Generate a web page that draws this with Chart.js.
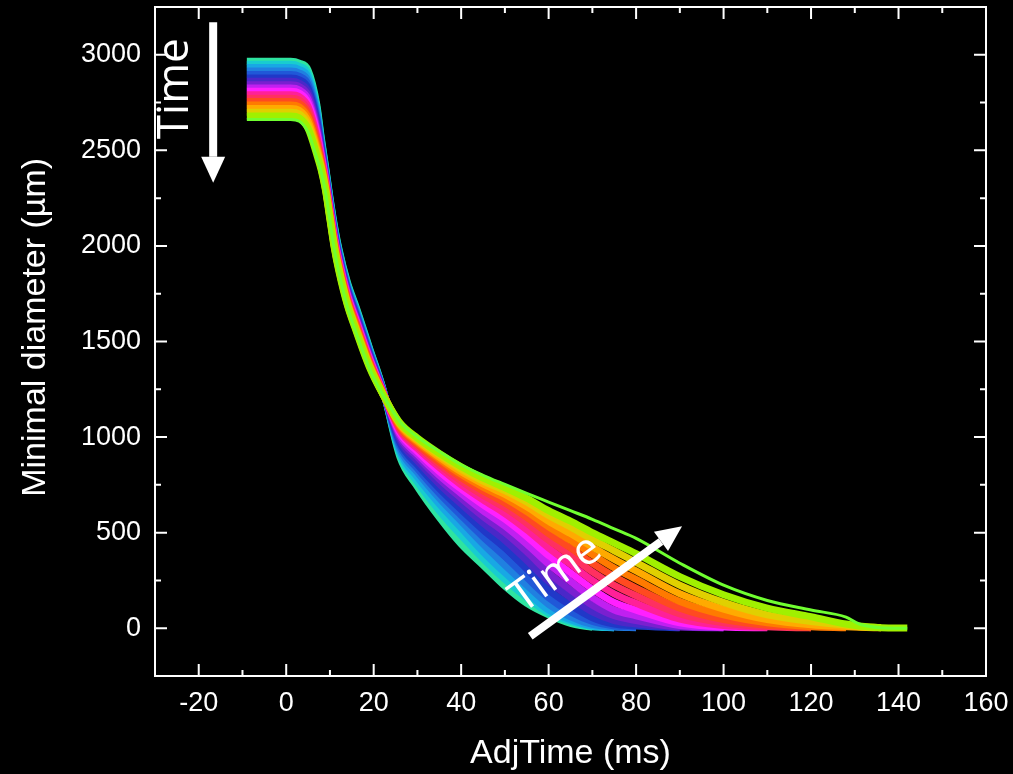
<!DOCTYPE html>
<html lang="en">
  <head>
    <meta charset="UTF-8" />
    <meta name="viewport" content="width=device-width, initial-scale=1.0" />
    <script src="https://cdn.jsdelivr.net/npm/chart.js@4"></script>
    <title>Minimal diameter vs AdjTime</title>
    <style>
      html, body { margin: 0; padding: 0; background: #000; }
      canvas { display: block; }
    </style>
  </head>
  <body>
    <canvas id="myChart" width="1013" height="774"></canvas>

    <script>
      // time axis shared by every curve (ms)
      const adjTime = [-9, 1, 3, 5, 7, 8, 9, 10, 11, 12, 14, 16, 19, 22,
        26, 30, 35, 40, 45, 50, 55, 60, 65, 70, 75, 80, 90, 100, 110, 120, 128, 131, 136, 142];

      // minimal diameter (um), one array per frame, earliest first. null = curve already ended
      const frame01 = [2966, 2966, 2956, 2920, 2740, 2570, 2415, 2255, 2110, 1990, 1810, 1680, 1470, 1262,
        895, 740, 580, 440, 330, 220, 130, 70, 25, 5, null, null, null, null, null, null, null, null, null, null];
      const frame02 = [2950, 2950, 2940, 2901, 2724, 2559, 2407, 2248, 2102, 1983, 1802, 1672, 1464, 1260,
        910, 765, 615, 485, 365, 255, 160, 80, 35, 8, 2, null, null, null, null, null, null, null, null, null];
      const frame03 = [2933, 2933, 2923, 2882, 2707, 2548, 2399, 2240, 2095, 1975, 1795, 1664, 1457, 1258,
        925, 790, 650, 525, 400, 290, 190, 95, 45, 12, 3, null, null, null, null, null, null, null, null, null];
      const frame04 = [2915, 2915, 2905, 2863, 2690, 2537, 2391, 2233, 2087, 1968, 1787, 1656, 1451, 1255,
        940, 815, 680, 560, 440, 330, 225, 125, 60, 20, 6, 3, null, null, null, null, null, null, null, null];
      const frame05 = [2897, 2897, 2887, 2844, 2674, 2526, 2383, 2226, 2079, 1961, 1779, 1648, 1444, 1253,
        955, 835, 705, 590, 478, 375, 265, 160, 85, 35, 12, 6, null, null, null, null, null, null, null, null];
      const frame06 = [2879, 2879, 2869, 2825, 2657, 2516, 2375, 2218, 2072, 1953, 1772, 1640, 1438, 1251,
        970, 855, 730, 620, 515, 420, 310, 200, 120, 55, 22, 12, 3, null, null, null, null, null, null, null];
      const frame07 = [2861, 2861, 2851, 2806, 2641, 2505, 2367, 2211, 2064, 1946, 1764, 1632, 1431, 1249,
        985, 875, 755, 650, 550, 460, 355, 245, 160, 85, 40, 22, 5, null, null, null, null, null, null, null];
      const frame08 = [2843, 2843, 2833, 2787, 2625, 2494, 2359, 2204, 2056, 1939, 1756, 1624, 1425, 1247,
        998, 895, 780, 680, 585, 500, 400, 290, 200, 120, 65, 40, 6, 2, null, null, null, null, null, null];
      const frame09 = [2826, 2826, 2816, 2768, 2608, 2483, 2351, 2196, 2049, 1931, 1749, 1616, 1418, 1244,
        1010, 910, 800, 705, 615, 535, 440, 335, 245, 160, 95, 65, 14, 3, null, null, null, null, null, null];
      const frame10 = [2809, 2809, 2799, 2748, 2592, 2472, 2343, 2189, 2041, 1924, 1741, 1609, 1412, 1242,
        1022, 925, 820, 728, 645, 570, 480, 380, 290, 205, 135, 95, 28, 6, 2, null, null, null, null, null];
      const frame11 = [2791, 2791, 2781, 2729, 2575, 2461, 2335, 2182, 2033, 1917, 1733, 1601, 1405, 1240,
        1033, 940, 840, 750, 672, 600, 515, 420, 335, 250, 180, 130, 48, 14, 4, null, null, null, null, null];
      const frame12 = [2773, 2773, 2763, 2710, 2559, 2450, 2327, 2174, 2026, 1909, 1726, 1593, 1399, 1238,
        1042, 952, 855, 770, 695, 630, 550, 460, 380, 295, 225, 170, 75, 28, 7, 2, null, null, null, null];
      const frame13 = [2755, 2755, 2745, 2691, 2542, 2440, 2320, 2167, 2018, 1902, 1718, 1585, 1392, 1236,
        1050, 962, 870, 788, 718, 655, 580, 495, 420, 340, 270, 210, 105, 45, 15, 3, null, null, null, null];
      const frame14 = [2737, 2737, 2727, 2672, 2526, 2429, 2312, 2160, 2010, 1895, 1710, 1577, 1386, 1233,
        1058, 972, 885, 805, 738, 680, 610, 530, 460, 385, 315, 255, 140, 70, 28, 8, 3, null, null, null];
      const frame15 = [2719, 2719, 2709, 2652, 2509, 2418, 2304, 2152, 2003, 1887, 1703, 1569, 1379, 1231,
        1065, 980, 895, 818, 755, 700, 635, 560, 495, 425, 360, 300, 180, 100, 45, 18, 8, 5, 2, null];
      const frame16 = [2700, 2700, 2690, 2633, 2493, 2407, 2296, 2145, 1995, 1880, 1695, 1561, 1373, 1229,
        1070, 988, 905, 832, 770, 720, 660, 590, 530, 465, 405, 345, 225, 135, 70, 35, 15, 8, 3, null];
      const frame17 = [2680, 2680, 2670, 2614, 2476, 2396, 2288, 2137, 1988, 1872, 1688, 1553, 1366, 1227,
        1075, 995, 915, 845, 785, 735, 680, 615, 560, 500, 445, 390, 270, 175, 105, 60, 22, 12, 3, 1];
      const frame18 = [2662, 2662, 2652, 2595, 2460, 2385, 2280, 2130, 1980, 1865, 1680, 1545, 1360, 1225,
        1080, 1000, 925, 855, 800, 752, 705, 660, 615, 570, 520, 470, 340, 225, 145, 95, 58, 22, 3, 0];

      const frames = [frame01, frame02, frame03, frame04, frame05, frame06, frame07, frame08, frame09,
        frame10, frame11, frame12, frame13, frame14, frame15, frame16, frame17, frame18];

      const frameColors = ["#2ee4a0", "#18ccd0", "#18a8e4", "#2080e0", "#2058d8", "#2038c8",
        "#4a28c8", "#7a20d0", "#c020f0", "#ff20ff", "#ff2098", "#ff3060",
        "#ff4a20", "#ff7a00", "#ffaa00", "#e0d000", "#a0f000", "#70ff30"];

      const xTickValues = [-20, 0, 20, 40, 60, 80, 100, 120, 140, 160];
      const yTickValues = [0, 500, 1000, 1500, 2000, 2500, 3000];
      const xMinorValues = [-10, 10, 30, 50, 70, 90, 110, 130, 150];
      const yMinorValues = [250, 750, 1250, 1750, 2250, 2750];

      // "Time" annotations, in data units
      const downArrow = { from: [-16.7, 3170], to: [-16.7, 2330] };
      const downLabel = { text: "Time", at: [-25.4, 2822] };
      const upArrow = { from: [55.8, -42], to: [90.5, 534] };
      const upLabel = { text: "Time", at: [61.7, 283] };

      const family = "'Liberation Sans', Arial, sans-serif";

      function arrow(ctx, x0, y0, x1, y1) {
        const ang = Math.atan2(y1 - y0, x1 - x0);
        const head = 26, half = 12;
        const bx = x1 - head * Math.cos(ang), by = y1 - head * Math.sin(ang);
        ctx.lineWidth = 8;
        ctx.beginPath();
        ctx.moveTo(x0, y0);
        ctx.lineTo(bx, by);
        ctx.stroke();
        ctx.beginPath();
        ctx.moveTo(x1, y1);
        ctx.lineTo(bx + half * Math.sin(ang), by - half * Math.cos(ang));
        ctx.lineTo(bx - half * Math.sin(ang), by + half * Math.cos(ang));
        ctx.closePath();
        ctx.fill();
      }

      const frameAndNotes = {
        id: "frameAndNotes",
        beforeDraw(chart) {
          const ctx = chart.ctx;
          ctx.save();
          ctx.fillStyle = "#000";
          ctx.fillRect(0, 0, chart.width, chart.height);
          ctx.restore();
        },
        afterDatasetsDraw(chart) {
          const { ctx, chartArea: a, scales: { x, y } } = chart;
          ctx.save();
          ctx.strokeStyle = "#fff";
          ctx.fillStyle = "#fff";
          ctx.lineWidth = 2;
          ctx.strokeRect(a.left, a.top, a.right - a.left, a.bottom - a.top);

          // inward ticks on all four sides
          const tick = (vals, len) => {
            vals.forEach(v => {
              const px = x.getPixelForValue(v);
              ctx.beginPath();
              ctx.moveTo(px, a.bottom); ctx.lineTo(px, a.bottom - len);
              ctx.moveTo(px, a.top); ctx.lineTo(px, a.top + len);
              ctx.stroke();
            });
          };
          const ytick = (vals, len) => {
            vals.forEach(v => {
              const py = y.getPixelForValue(v);
              ctx.beginPath();
              ctx.moveTo(a.left, py); ctx.lineTo(a.left + len, py);
              ctx.moveTo(a.right, py); ctx.lineTo(a.right - len, py);
              ctx.stroke();
            });
          };
          tick(xTickValues, 12);
          tick(xMinorValues, 6);
          ytick(yTickValues, 12);
          ytick(yMinorValues, 6);

          // arrows + labels
          const p = pt => [x.getPixelForValue(pt[0]), y.getPixelForValue(pt[1])];
          const [d0x, d0y] = p(downArrow.from), [d1x, d1y] = p(downArrow.to);
          arrow(ctx, d0x, d0y, d1x, d1y);
          const [u0x, u0y] = p(upArrow.from), [u1x, u1y] = p(upArrow.to);
          arrow(ctx, u0x, u0y, u1x, u1y);

          ctx.font = "44px 'Open Sans', sans-serif";
          ctx.textAlign = "center";
          ctx.textBaseline = "middle";
          let [tx, ty] = p(downLabel.at);
          ctx.save();
          ctx.translate(tx, ty);
          ctx.rotate(-Math.PI / 2);
          ctx.fillText(downLabel.text, 0, 0);
          ctx.restore();
          [tx, ty] = p(upLabel.at);
          ctx.save();
          ctx.translate(tx, ty);
          ctx.rotate(Math.atan2(u1y - u0y, u1x - u0x));
          ctx.fillText(upLabel.text, 0, 0);
          ctx.restore();
          ctx.restore();
        }
      };

      const datasets = frames.map((vals, i) => ({
        label: "frame " + (i + 1),
        data: adjTime.map((t, j) => ({ x: t, y: vals[j] })).filter(pt => pt.y !== null),
        borderColor: frameColors[i],
        borderWidth: i === frames.length - 1 ? 3 : 7,
        order: frames.length - i
      }));

      const ctx = document.getElementById("myChart").getContext("2d");
      const chart = new Chart(ctx, {
        type: "line",
        data: { datasets: datasets },
        options: {
          responsive: false,
          animation: false,
          devicePixelRatio: 1,
          layout: { padding: { top: 7, right: 27, left: 0, bottom: 0 } },
          elements: {
            point: { radius: 0 },
            line: { cubicInterpolationMode: "monotone", fill: false }
          },
          plugins: { legend: { display: false }, tooltip: { enabled: false } },
          scales: {
            x: {
              type: "linear",
              min: -30,
              max: 160,
              afterBuildTicks: s => { s.ticks = xTickValues.map(v => ({ value: v })); },
              afterFit: s => {
                s.height = 98;
                s.paddingLeft = 0; s.paddingRight = 0; s.paddingTop = 0; s.paddingBottom = 0;
              },
              grid: { display: false, drawTicks: false },
              border: { display: false },
              ticks: {
                color: "#fff", font: { size: 27, family: family }, padding: 11,
                maxRotation: 0, autoSkip: false, callback: v => String(v)
              },
              title: {
                display: true, text: "AdjTime (ms)", color: "#fff",
                font: { size: 34, family: family }, padding: { top: 0, bottom: 0 }
              }
            },
            y: {
              type: "linear",
              min: -250,
              max: 3250,
              afterBuildTicks: s => { s.ticks = yTickValues.map(v => ({ value: v })); },
              afterFit: s => {
                s.width = 155;
                s.paddingLeft = 0; s.paddingRight = 0; s.paddingTop = 0; s.paddingBottom = 0;
              },
              grid: { display: false, drawTicks: false },
              border: { display: false },
              ticks: {
                color: "#fff", font: { size: 27, family: family }, padding: 14,
                autoSkip: false, callback: v => String(v)
              },
              title: {
                display: true, text: "   Minimal diameter (\u00b5m)", color: "#fff",
                font: { size: 34, family: family }, padding: { top: 15, bottom: 0 }
              }
            }
          }
        },
        plugins: [frameAndNotes]
      });
    </script>
  </body>
</html>
